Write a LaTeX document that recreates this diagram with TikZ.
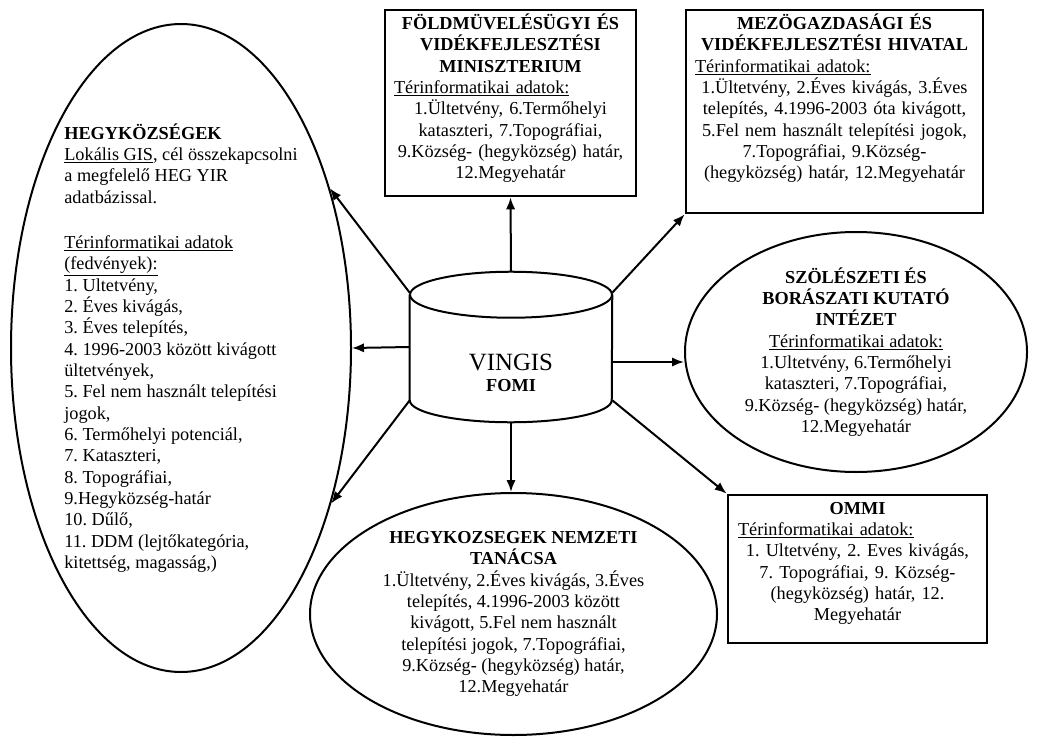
\documentclass[tikz,border=0pt]{standalone}
\usepackage{fontspec}
\setmainfont{Liberation Serif}
\usepackage{tikz}
\usetikzlibrary{calc,positioning,shapes.geometric,arrows.meta}
\def\px{0.75pt}
\frenchspacing

\begin{document}
\begin{tikzpicture}[x=0.75pt, y=-0.75pt,
	frame/.style={draw, line width=2pt, inner sep=0pt},
	oval/.style={ellipse, draw, line width=1.5pt, inner sep=0pt, align=center},
	boxtext/.style={inner sep=0pt, align=center},
	link/.style={line width=1.5pt, -{Latex[length=9pt, width=7pt]}},
	font=\fontsize{13.7}{16}\selectfont]
			%%%%% START %%%%%
			\useasboundingbox (0, 0) rectangle (1045, 738);
			
			% left oval
			\node[oval, align=left, minimum width=340*\px, minimum height=648*\px] (hegy) at (181, 348) {\textbf{HEGYKÖZSÉGEK}\\
				\underline{Lokális GIS}, cél összekapcsolni\\
				a megfelelő HEG YIR\\
				adatbázissal.\\[18pt]
				\underline{Térinformatikai adatok}\\
				\underline{(fedvények):}\\
				1. Ultetvény,\\
				2. Éves kivágás,\\
				3. Éves telepítés,\\
				4. 1996-2003 között kivágott\\
				ültetvények,\\
				5. Fel nem használt telepítési\\
				jogok,\\
				6. Termőhelyi potenciál,\\
				7. Kataszteri,\\
				8. Topográfiai,\\
				9.Hegyközség-határ\\
				10. Dűlő,\\
				11. DDM (lejtőkategória,\\
				kitettség, magasság,)};
			
			% top boxes
			\node[frame, minimum width=251*\px, minimum height=186*\px] (foldm) at (510.5, 103) {};
			\node[boxtext, text width=233*\px, below=3.75pt of foldm.north] (foldmtxt) {\textbf{FÖLDMÜVELÉSÜGYI ÉS}\\
				\textbf{VIDÉKFEJLESZTÉSI}\\
				\textbf{MINISZTERIUM}\\
				\makebox[\linewidth][l]{\underline{Térinformatikai adatok:}}\\
				1.Ültetvény, 6.Termőhelyi\\
				kataszteri, 7.Topográfiai,\\
				9.Község- (hegyközség) határ,\\
				12.Megyehatár};
			
			\node[frame, minimum width=297*\px, minimum height=203*\px] (mezo) at (834.5, 111.5) {};
			\node[boxtext, text width=279*\px, below=3.75pt of mezo.north] (mezotxt) {\textbf{MEZÖGAZDASÁGI ÉS}\\
				\textbf{VIDÉKFEJLESZTÉSI HIVATAL}\\
				\makebox[\linewidth][l]{\underline{Térinformatikai adatok:}}\\
				1.Ültetvény, 2.Éves kivágás, 3.Éves\\
				telepítés, 4.1996-2003 óta kivágott,\\
				5.Fel nem használt telepítési jogok,\\
				7.Topográfiai, 9.Község-\\
				(hegyközség) határ, 12.Megyehatár};
			
			% right oval
			\node[oval, minimum width=342*\px, minimum height=240*\px] (szol) at (856, 352) {\textbf{SZÖLÉSZETI ÉS}\\
				\textbf{BORÁSZATI KUTATÓ}\\
				\textbf{INTÉZET}\\
				\underline{Térinformatikai adatok:}\\
				1.Ultetvény, 6.Termőhelyi\\
				kataszteri, 7.Topográfiai,\\
				9.Község- (hegyközség) határ,\\
				12.Megyehatár};
			
			% OMMI box
			\node[frame, minimum width=259*\px, minimum height=148*\px] (ommi) at (857.5, 569) {};
			\node[boxtext, text width=239*\px, below=6pt of ommi.north] (ommitxt) {\textbf{OMMI}\\
				\makebox[\linewidth][l]{\underline{Térinformatikai adatok:}}\\
				1. Ultetvény, 2. Eves kivágás,\\
				7. Topográfiai, 9. Község-\\
				(hegyközség) határ, 12.\\
				Megyehatár};
			
			% bottom oval
			\node[oval, minimum width=407*\px, minimum height=242*\px] (tanacs) at (513.5, 614) {\textbf{HEGYKOZSEGEK NEMZETI}\\
				\textbf{TANÁCSA}\\
				1.Ültetvény, 2.Éves kivágás, 3.Éves\\
				telepítés, 4.1996-2003 között\\
				kivágott, 5.Fel nem használt\\
				telepítési jogok, 7.Topográfiai,\\
				9.Község- (hegyközség) határ,\\
				12.Megyehatár};
			
			% database
			\node[inner sep=0pt, minimum width=202*\px, minimum height=150*\px] (db) at (511, 347) {};
			\draw[line width=1.5pt] ($(db.north)+(0, 23)$) ellipse [x radius=101*\px, y radius=23*\px];
			\draw[line width=1.5pt] ($(db.north west)+(0, 23)$) -- ($(db.south west)+(0, -22)$) arc [start angle=180, end angle=360, x radius=101*\px, y radius=22*\px] -- ($(db.north east)+(0, 23)$);
			\node[boxtext] (dbtxt) at ($(db.center)+(0, 26)$) {{\fontsize{18.6}{22}\selectfont VINGIS}\\ \textbf{FOMI}};
			
			% links
			\coordinate (dbr) at ($(db.east)+(0, 15)$);
			\draw[link] (db.north) -- (foldm.south);
			\draw[link] ($(db.north west)+(0, 21)$) -- (hegy.47);
			\draw[link] (db.west) -- (hegy.east);
			\draw[link] ($(db.south west)+(0, -22)$) -- (hegy.-46);
			\draw[link] ($(db.north east)+(0, 21)$) -- (mezo.south west);
			\draw[link] (dbr) -- (dbr -| szol.west);
			\draw[link] ($(db.south east)+(0, -22)$) -- (ommi.north west);
			\draw[link] (db.south) -- (db.south |- tanacs.north);
			
			%%%%% END %%%%%
\end{tikzpicture}
\end{document}
